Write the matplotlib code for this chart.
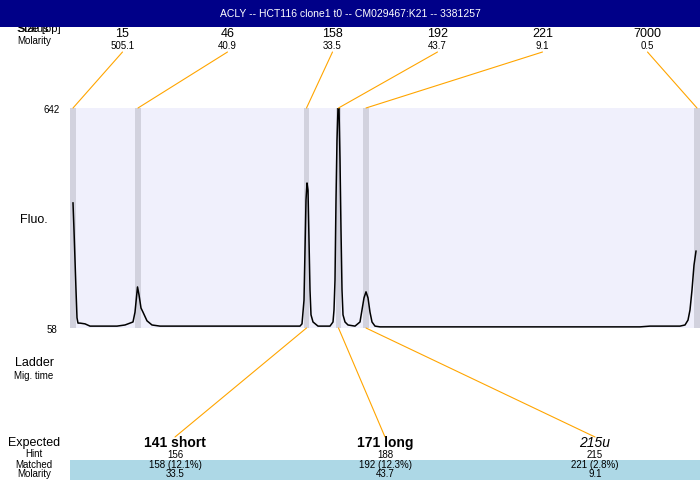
import matplotlib
matplotlib.use("Agg")
import matplotlib.pyplot as plt
from matplotlib.patches import Rectangle, ConnectionPatch

plt.rcParams['font.family'] = ['Liberation Sans', 'DejaVu Sans']

title = "ACLY -- HCT116 clone1 t0 -- CM029467:K21 -- 3381257"

# ladder peaks: size, molarity, position along the trace
ladder_size = ["15", "46", "158", "192", "221", "7000"]
ladder_molarity = ["505.1", "40.9", "33.5", "43.7", "9.1", "0.5"]
ladder_pos = [3, 68, 236.5, 268.5, 296, 627]

# expected fragments and the ladder peak each one is matched to
expected = ["141 short", "171 long", "215u"]
expected_style = ["bold", "bold", "italic"]
hint = ["156", "188", "215"]
matched = ["158 (12.1%)", "192 (12.3%)", "221 (2.8%)"]
matched_molarity = ["33.5", "43.7", "9.1"]
matched_peak = [2, 3, 4]

# electropherogram trace (position, fluorescence)
trace_x = [3, 4, 6, 7, 8, 10, 15, 20, 47, 55, 63, 65, 67.5, 69, 71, 73, 77, 82, 90,
           230, 232, 234, 235, 236, 237, 238, 239, 240, 241, 243, 248, 260,
           263, 264, 265, 266, 267, 268, 269, 270, 271, 272, 273, 275, 278, 285,
           290, 292, 294, 296, 298, 300, 302, 305, 310, 570, 580, 610,
           615, 618, 620, 622, 624, 626]
trace_y = [390, 318, 159, 85, 71, 71, 69, 63, 63, 66, 74, 100, 167, 146, 111, 100, 77, 66, 63,
           63, 69, 132, 265, 398, 443, 424, 292, 159, 93, 74, 63, 63,
           74, 106, 185, 398, 557, 642, 642, 504, 318, 159, 93, 74, 66, 63,
           74, 106, 138, 154, 138, 100, 74, 63, 61, 61, 63, 63,
           66, 79, 106, 159, 225, 262]

W, H = 700, 480


def fp(x, y):
    # pixel position (from top-left) to figure fraction
    return (x / W, 1 - y / H)


fig = plt.figure(figsize=(7, 4.8), dpi=100)

# title banner
fig.add_artist(Rectangle((0, 1 - 27 / H), 1, 27 / H, transform=fig.transFigure,
                         facecolor="#000088", edgecolor="none", zorder=5))
fig.text(*fp(350, 14), title, color="white", fontsize=7.5, ha="center", va="center", zorder=6)

# header labels (partly hidden under the banner)
fig.text(*fp(17, 29), "Size [bp]", fontsize=8, ha="left", va="center", zorder=1)
fig.text(*fp(17, 29), "Status", fontsize=8, ha="left", va="center", zorder=1)
fig.text(*fp(17, 41), "Molarity", fontsize=7, ha="left", va="center")

ax = fig.add_axes([70 / W, (H - 328) / H, 630 / W, 220 / H])
ax.set_xlim(0, 630)
ax.set_ylim(58, 642)
ax.set_facecolor("#F0F0FC")
for s in ax.spines.values():
    s.set_visible(False)
ax.set_xticks([])
ax.set_yticks([])

for p in ladder_pos:
    ax.axvspan(p - 2.8, p + 2.8, color="#D2D2DE", lw=0)
ax.plot(trace_x, trace_y, color="black", lw=1.1)

fig.text(*fp(52, 110), "642", fontsize=7, ha="center", va="center")
fig.text(*fp(52, 330), "58", fontsize=7, ha="center", va="center")
fig.text(*fp(34, 220), "Fluo.", fontsize=9, ha="center", va="center")
fig.text(*fp(34, 363), "Ladder", fontsize=9, ha="center", va="center")
fig.text(*fp(34, 376), "Mig. time", fontsize=7, ha="center", va="center")
fig.text(*fp(34, 443), "Expected", fontsize=9, ha="center", va="center")
fig.text(*fp(34, 454), "Hint", fontsize=7, ha="center", va="center")
fig.text(*fp(34, 465), "Matched", fontsize=7, ha="center", va="center")
fig.text(*fp(34, 474), "Molarity", fontsize=7, ha="center", va="center")

# ladder labels and connectors at the top
for i, (sz, mol, p) in enumerate(zip(ladder_size, ladder_molarity, ladder_pos)):
    lx = 70 + 105 * (i + 0.5)
    fig.text(*fp(lx, 34), sz, fontsize=9, ha="center", va="center")
    fig.text(*fp(lx, 46), mol, fontsize=7, ha="center", va="center")
    con = ConnectionPatch(xyA=fp(lx, 52), coordsA="figure fraction",
                          xyB=(p, 642), coordsB="data", axesB=ax,
                          color="orange", lw=0.8)
    fig.add_artist(con)

# matched band at the bottom
fig.add_artist(Rectangle(fp(70, 480), 630 / W, 20 / H, transform=fig.transFigure,
                         facecolor="#ADD8E6", edgecolor="none", zorder=0))

for i in range(len(expected)):
    ex = 70 + 210 * (i + 0.5)
    fig.text(*fp(ex, 443), expected[i], fontsize=10,
             fontweight="bold" if expected_style[i] == "bold" else "normal",
             fontstyle="italic" if expected_style[i] == "italic" else "normal",
             ha="center", va="center")
    fig.text(*fp(ex, 455), hint[i], fontsize=7, ha="center", va="center")
    fig.text(*fp(ex, 465), matched[i], fontsize=7, ha="center", va="center")
    fig.text(*fp(ex, 474), matched_molarity[i], fontsize=7, ha="center", va="center")
    con = ConnectionPatch(xyA=(ladder_pos[matched_peak[i]], 58), coordsA="data", axesA=ax,
                          xyB=fp(ex, 437), coordsB="figure fraction",
                          color="orange", lw=0.8)
    fig.add_artist(con)

fig.savefig("out.png", dpi=100)
